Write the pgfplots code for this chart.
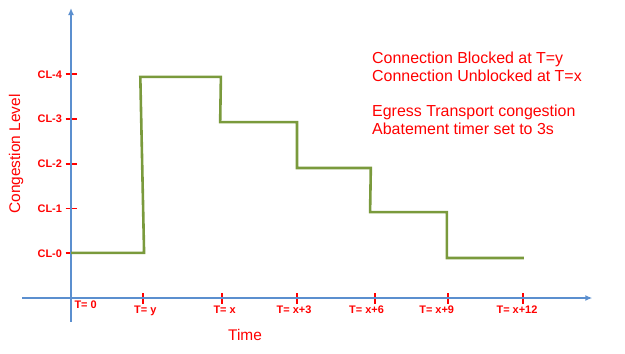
\documentclass[border=0pt]{standalone}
\usepackage{pgfplots}
\pgfplotsset{compat=1.18}
\usetikzlibrary{arrows.meta}
\usepackage{fontspec}
\setmainfont{Liberation Sans}
\definecolor{axblue}{HTML}{5B8FCF}
\definecolor{lgreen}{HTML}{7A9A3C}
\definecolor{tred}{HTML}{FF0000}
\begin{document}
\begin{tikzpicture}
\begin{axis}[
  x=75.33bp, y=44.75bp,
  xmin=-0.65, xmax=6.92, ymin=-0.536, ymax=6.48,
  axis lines=middle,
  clip=false,
  axis line style={axblue, line width=1.9bp, -{Latex[length=7bp,width=6bp]}},
  tick style={tred, line width=1.9bp},
  major tick length=11bp,
  tick align=center,
  xtick={0.96,2,3,4.03,5,6},
  xticklabels={{\hspace*{4bp}T= y},{\hspace*{6bp}T= x},{T= x+3\hspace*{6bp}},{T= x+6\hspace*{16bp}},{T= x+9\hspace*{22bp}},{T= x+12\hspace*{12bp}}},
  extra x ticks={0},
  extra x tick labels={T= 0},
  extra x tick style={major tick length=0pt, xticklabel style={anchor=north west}},
  ytick={1,2,3,4,5},
  yticklabels={CL-0,CL-1,CL-2,CL-3,CL-4},
  xticklabel style={font=\fontsize{11}{12}\selectfont\bfseries, text=tred, anchor=north, yshift=1bp},
  yticklabel style={font=\fontsize{11}{12}\selectfont\bfseries, text=tred, anchor=east},
]
\addplot[lgreen, line width=2.6bp, line join=miter] coordinates {
  (0,1.01) (0.97,1.01) (0.92,4.94) (1.99,4.94) (1.98,3.93) (3.0,3.93)
  (3.0,2.905) (3.98,2.905) (3.97,1.92) (4.99,1.92) (4.99,0.894) (6.01,0.894)
};
\node[anchor=base west, text=tred, font=\fontsize{16}{18}\selectfont, inner sep=0pt] at (axis cs:3.996,5.229) {Connection Blocked at T=y};
\node[anchor=base west, text=tred, font=\fontsize{16}{18}\selectfont, inner sep=0pt] at (axis cs:3.996,4.838) {Connection Unblocked at T=x};
\node[anchor=base west, text=tred, font=\fontsize{16}{18}\selectfont, inner sep=0pt] at (axis cs:3.996,4.045) {Egress Transport congestion};
\node[anchor=base west, text=tred, font=\fontsize{16}{18}\selectfont, inner sep=0pt] at (axis cs:3.996,3.654) {Abatement timer set to 3s};
\node[anchor=base, text=tred, font=\fontsize{15.5}{18}\selectfont, inner sep=0pt] at (axis cs:2.31,-0.9385) {Time};
\node[anchor=center, rotate=90, text=tred, font=\fontsize{15.5}{18}\selectfont, inner sep=0pt] at (axis cs:-0.730,3.218) {Congestion Level};
\path (axis cs:-0.9425,-1.251) rectangle (axis cs:7.354,6.659);
\end{axis}
\end{tikzpicture}
\end{document}
